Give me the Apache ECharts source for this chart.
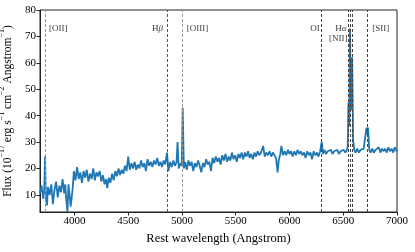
<!DOCTYPE html>
<html><head><meta charset="utf-8">
<script src="https://cdn.jsdelivr.net/npm/echarts@6/dist/echarts.min.js"></script>
<style>html,body{margin:0;padding:0;background:#fff}#c{width:415px;height:252px}</style>
</head><body><div id="c"></div>
<script>
// Rest wavelength (Angstrom) and flux (1e-17 erg/s/cm^2/A)
var wave = [3680,3695,3710,3720,3727,3735,3745,3755,3770,3785,3800,3815,3830,3845,3860,3875,3890,3905,3915,3925,3935,3945,3955,3965,3975,3985,3995,
4010,4025,4040,4055,4070,4085,4100,4115,4130,4145,4160,4175,4190,4205,4220,4235,4250,4265,4280,4295,4305,4320,4335,4350,4365,4380,4395,
4410,4425,4440,4455,4470,4485,4500,4515,4530,4545,4560,4575,4590,4605,4620,4635,4650,4665,4680,4695,4710,4725,4740,4755,4770,4785,4800,4815,4830,4845,
4861,4875,4890,4905,4920,4935,4950,4959,4970,4985,4998,5007,5018,5030,5045,5060,5075,5090,5105,5120,5135,5150,5165,5180,5195,5210,5225,5240,5255,5270,5285,
5300,5315,5330,5345,5360,5375,5390,5405,5420,5435,5450,5465,5480,5495,5510,5525,5540,5555,5570,5585,5600,5615,5630,5645,5660,5675,5690,5705,5720,5735,5755,5770,5785,
5800,5815,5830,5845,5860,5875,5890,5900,5915,5925,5940,5955,5970,5985,6000,6015,6030,6045,6060,6075,6090,6105,6120,6135,6150,6165,6180,6195,6210,6225,6240,6255,6270,6285,
6300,6312,6325,6340,6355,6370,6385,6400,6415,6430,6445,6460,6475,6490,6505,6520,6535,6542,6548,6556,6563,6572,6583,6592,6602,6615,6630,6645,6660,6675,6690,6705,
6716,6724,6731,6742,6755,6770,6785,6800,6815,6830,6845,6860,6875,6890,6905,6920,6935,6950,6965,6980,6995,7000];
var flux = [10.5,13.5,8.5,12,24.5,9,6,13,10,14,6.5,12,15,9,13.5,11,16,10.5,14,8,3.5,14,10,5.5,9,13,19,
15.5,20.5,16,18.5,14.5,19,16.5,19.5,15,18,16,20,15.5,18.5,17,19,15,17.5,14,16,12.5,16.5,14.5,18,15.5,19,17,
20,17.5,19.5,18,21,19,24.5,19.5,22,20,22.5,19.5,21.5,20,23,20.5,22,19,23.5,21,22.5,20.5,23,21.5,24,21,22.5,20.5,23,21.5,
26,19,22.5,20.5,23,21,22.5,30,20,22,21,43,20,22.5,19.5,23,21,22.5,19,22,20.5,23,21,18.5,22,20.5,23.5,21.5,22.5,19,24,
22,24.5,22.5,24,21.5,25,23,25.5,22.5,24.5,23,26,23.5,25,22.5,25.5,24,26,23.5,26,24.5,26.5,24,25.5,23.5,26,24.5,26.5,25,26,28.5,24.5,26,
25,26.5,24.5,26,25,24,18.5,23,25.5,28.5,25,26.5,25,27,25.5,26.5,24.5,26.5,25,27,25.5,26.5,25,26,24,26.5,25,26,23.5,26.5,25,26,24.5,26.5,
30,25.5,27,25.5,26.5,26,27,25.5,26.5,26,27,25.5,26.5,26,27,26,27,28.5,45,36,73,42,62,31,27,26,27.5,26,27,26.5,27.5,27,
35.5,33,35.5,27,26,27.5,26,27,26.5,28,26,27.5,26.5,27.5,26,28,26.5,27.5,26,28,26.5,27];

// emission-line markers
var lineWave = [3727, 4861, 5007, 6300, 6548, 6563, 6583, 6724];
var lineShade = ['#999', '#555', '#999', '#444', '#444', '#444', '#444', '#444'];
// labels: [wavelength, flux, text, side]
var labelWave = [3727, 4861, 5007, 6300, 6548, 6548, 6724];
var labelFlux = [73, 73, 73, 73, 73, 69.3, 73];
var labelText = ['[OII]', '{n|H}{g|β}', '[OIII]', 'OI', '{n|H}{g|α}', '[NII]', '[SII]'];
var labelSide = ['right', 'left', 'right', 'left', 'left', 'left', 'right'];
var labelDist = [4, 4, 4, 2, 2, 1, 5];

var xTicks = [4000, 4500, 5000, 5500, 6000, 6500, 7000];
var yTicks = [10, 20, 30, 40, 50, 60, 70, 80];

var FONT = 'Liberation Serif';
var specData = wave.map(function (w, i) { return [w, flux[i]]; });
var markData = lineWave.map(function (w, i) {
  return { xAxis: w, lineStyle: { color: lineShade[i] } };
});
var labelData = labelWave.map(function (w, i) {
  return {
    value: [w, labelFlux[i]],
    label: { formatter: labelText[i], position: labelSide[i], distance: labelDist[i] }
  };
});

var chart = echarts.init(document.getElementById('c'), null, { renderer: 'canvas' });
chart.setOption({
  animation: false,
  backgroundColor: '#fff',
  grid: { left: 40, right: 18, top: 10, bottom: 40, containLabel: false, outerBoundsMode: 'none',
          show: true, borderColor: '#222', borderWidth: 1, backgroundColor: 'transparent' },
  xAxis: {
    type: 'value', min: 3680, max: 7000,
    name: 'Rest wavelength (Angstrom)', nameLocation: 'middle', nameGap: 19,
    nameTextStyle: { fontFamily: FONT, fontSize: 12.5, color: '#000' },
    axisLine: { show: true, onZero: false, lineStyle: { color: '#222', width: 1 } },
    axisTick: { show: true, length: 3.5, lineStyle: { color: '#222' }, customValues: xTicks },
    axisLabel: { fontFamily: FONT, fontSize: 11, color: '#000', margin: 4, customValues: xTicks,
                 formatter: function (v) { return String(v); } },
    splitLine: { show: false }
  },
  yAxis: {
    type: 'value', min: 3.5, max: 80,
    name: '{a|Flux (10}{s|−17}{a| erg s}{s|−1}{a| cm}{s|−2}{a| Angstrom}{s|−1}{a|)}',
    nameLocation: 'middle', nameGap: 22, nameRotate: 90,
    nameTextStyle: {
      fontFamily: FONT, fontSize: 11.5, color: '#000',
      rich: {
        a: { fontFamily: FONT, fontSize: 11.5, color: '#000', lineHeight: 16, verticalAlign: 'bottom' },
        s: { fontFamily: FONT, fontSize: 8, color: '#000', lineHeight: 16, verticalAlign: 'top' }
      }
    },
    axisLine: { show: true, onZero: false, lineStyle: { color: '#222', width: 1 } },
    axisTick: { show: true, length: 3.5, lineStyle: { color: '#222' }, customValues: yTicks },
    axisLabel: { fontFamily: FONT, fontSize: 11, color: '#000', margin: 4, customValues: yTicks },
    splitLine: { show: false }
  },
  series: [
    {
      type: 'line', data: specData, showSymbol: false, symbol: 'none',
      lineStyle: { color: '#1f77b4', width: 1.8 }, clip: true, z: 2,
      markLine: {
        silent: true, symbol: 'none', animation: false,
        label: { show: false },
        lineStyle: { type: [3, 2], width: 1 },
        data: markData
      }
    },
    {
      type: 'scatter', data: labelData, symbolSize: 0, silent: true, z: 3,
      label: {
        show: true, color: '#000', fontFamily: FONT, fontSize: 9,
        rich: {
          n: { fontFamily: FONT, fontSize: 9, color: '#000' },
          g: { fontFamily: FONT, fontSize: 9, color: '#000', fontStyle: 'italic' }
        }
      }
    }
  ]
});
</script></body></html>
